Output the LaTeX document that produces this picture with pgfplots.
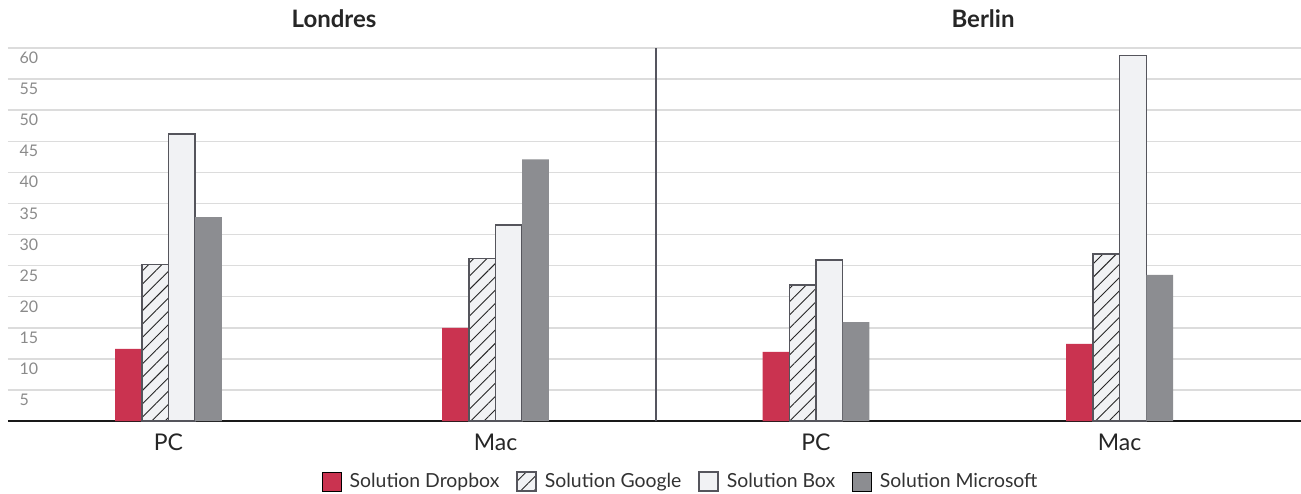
\documentclass[border=0pt]{standalone}
\usepackage{fontspec}
\setmainfont{Lato}
\usepackage{pgfplots}
\pgfplotsset{compat=1.18}
\usetikzlibrary{patterns.meta}
\definecolor{dbred}{HTML}{CA3350}
\definecolor{msgray}{HTML}{8C8D91}
\definecolor{boxfill}{HTML}{F1F2F4}
\definecolor{edgegray}{HTML}{55555C}
\definecolor{gridgray}{HTML}{DCDCDC}
\definecolor{ticktext}{HTML}{8A8A8A}
\definecolor{divider}{HTML}{55555F}
\pgfplotsset{sqlegend/.style={legend image code/.code={\draw[##1] (0pt,-4.5pt) rectangle (9.5pt,5pt);}}}

\begin{document}
\begin{tikzpicture}
\useasboundingbox (0pt,0pt) rectangle (650.5pt,246.5pt);
\begin{axis}[
  at={(4pt,36pt)}, anchor=south west,
  scale only axis, width=646.5pt, height=186.5pt,
  xmin=8, xmax=1301, ymin=0, ymax=60,
  clip=false,
  axis x line*=bottom, axis y line*=left,
  y axis line style={draw=none},
  x axis line style={color=black!90, line width=1pt},
  major tick length=0pt,
  ytick={5,10,...,60},
  ymajorgrids,
  grid style={gridgray, line width=0.75pt},
  xtick={168.5,495.5,816,1119.6},
  xticklabels={PC,Mac,PC,Mac},
  extra x ticks={656},
  extra x tick labels={},
  extra x tick style={xmajorgrids=true, major grid style={divider, line width=1pt}},
  /pgf/number format/assume math mode=true,
  yticklabel style={font=\fontsize{8}{9}\selectfont, color=ticktext, anchor=north west, xshift=2.3pt, yshift=1.5pt},
  xticklabel style={font=\fontsize{11.5}{13}\selectfont, color=black!85, yshift=-3pt},
  legend style={at={(axis description cs:0.521,-0.164)}, anchor=center, draw=none,
    legend columns=4, font=\fontsize{9.7}{12}\selectfont, text=black!80,
    /tikz/every odd column/.append style={column sep=2pt},
    /tikz/every even column/.append style={column sep=6.5pt}},
]
\addplot[ybar, bar width=26.7, bar shift=-40.05, fill=dbred, draw=none, sqlegend]
  coordinates {(168.5,11.6) (495.5,15.0) (816,11.1) (1119.6,12.4)};
\addlegendentry{Solution Dropbox}
\addplot[ybar, bar width=26.7, bar shift=-13.35, preaction={fill=boxfill},
  pattern={Lines[angle=45,distance=4.7pt,line width=0.45pt]}, pattern color=black!85,
  draw=edgegray, line width=0.75pt, sqlegend]
  coordinates {(168.5,25.2) (495.5,26.1) (816,21.9) (1119.6,26.9)};
\addlegendentry{Solution Google}
\addplot[ybar, bar width=26.7, bar shift=13.35, fill=boxfill, draw=edgegray, line width=0.75pt, sqlegend]
  coordinates {(168.5,46.2) (495.5,31.5) (816,25.9) (1119.6,58.8)};
\addlegendentry{Solution Box}
\addplot[ybar, bar width=26.7, bar shift=40.05, fill=msgray, draw=none, sqlegend]
  coordinates {(168.5,32.8) (495.5,42.1) (816,15.9) (1119.6,23.5)};
\addlegendentry{Solution Microsoft}
\node[font=\bfseries\fontsize{12}{14}\selectfont, text=black!85, yshift=14.7pt] at (axis cs:334,60) {Londres};
\node[font=\bfseries\fontsize{12}{14}\selectfont, text=black!85, yshift=14.7pt] at (axis cs:983,60) {Berlin};
\end{axis}
\end{tikzpicture}
\end{document}
